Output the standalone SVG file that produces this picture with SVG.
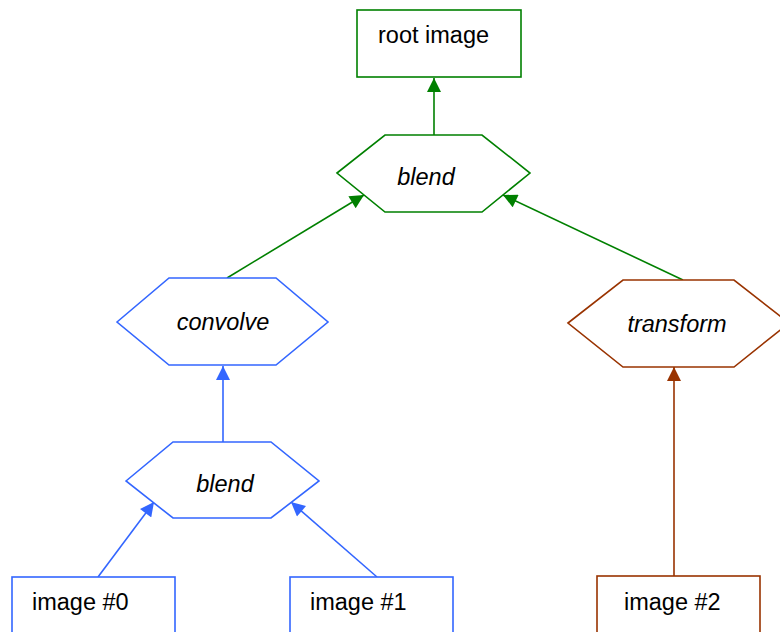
<svg xmlns="http://www.w3.org/2000/svg" width="780" height="632" viewBox="0 0 780 632">
<style>
  .g { stroke: #008000; }
  .b { stroke: #3366ff; }
  .r { stroke: #993300; }
  .shape { fill: #ffffff; stroke-width: 1.6; }
  .edge { fill: none; stroke-width: 1.6; }
  text { font-family: "Liberation Sans", Arial, sans-serif; font-size: 23.5px; fill: #000000; }
  .op { font-style: italic; text-anchor: middle; }
</style>
<defs>
  <marker id="ag" viewBox="0 0 10 10" refX="10" refY="5" markerWidth="15" markerHeight="14" markerUnits="userSpaceOnUse" orient="auto">
    <path d="M0,0 L10,5 L0,10 z" fill="#008000"/>
  </marker>
  <marker id="ab" viewBox="0 0 10 10" refX="10" refY="5" markerWidth="15" markerHeight="14" markerUnits="userSpaceOnUse" orient="auto">
    <path d="M0,0 L10,5 L0,10 z" fill="#3366ff"/>
  </marker>
  <marker id="ar" viewBox="0 0 10 10" refX="10" refY="5" markerWidth="15" markerHeight="14" markerUnits="userSpaceOnUse" orient="auto">
    <path d="M0,0 L10,5 L0,10 z" fill="#993300"/>
  </marker>
</defs>
<rect width="780" height="632" fill="#ffffff"/>
<g id="connectors">
  <line class="edge g" x1="434" y1="135" x2="434" y2="78" marker-end="url(#ag)"/>
  <line class="edge g" x1="227" y1="278" x2="364" y2="195" marker-end="url(#ag)"/>
  <line class="edge g" x1="683" y1="280" x2="503" y2="195" marker-end="url(#ag)"/>
  <line class="edge b" x1="223" y1="442" x2="223" y2="366" marker-end="url(#ab)"/>
  <line class="edge b" x1="98" y1="577" x2="154" y2="502" marker-end="url(#ab)"/>
  <line class="edge b" x1="377" y1="577" x2="291" y2="502" marker-end="url(#ab)"/>
  <line class="edge r" x1="674" y1="576" x2="674" y2="367" marker-end="url(#ar)"/>
</g>
<g id="root-image">
  <rect class="shape g" x="357" y="10" width="164" height="67"/>
  <text x="378" y="43">root image</text>
</g>
<g id="blend-top">
  <polygon class="shape g" points="337,173 385,135 482,135 530,173 482,212 385,212"/>
  <text class="op" x="426" y="185">blend</text>
</g>
<g id="convolve">
  <polygon class="shape b" points="117,322 169,278 276,278 328,322 276,365 169,365"/>
  <text class="op" x="223" y="330">convolve</text>
</g>
<g id="transform">
  <polygon class="shape r" points="568,323 623,280 734,280 789,323 734,367 623,367"/>
  <text class="op" x="677" y="332">transform</text>
</g>
<g id="blend-bottom">
  <polygon class="shape b" points="126,481 173,442 271,442 319,481 271,518 173,518"/>
  <text class="op" x="225" y="492">blend</text>
</g>
<g id="image-0">
  <rect class="shape b" x="12" y="577" width="163" height="70"/>
  <text x="32" y="610">image #0</text>
</g>
<g id="image-1">
  <rect class="shape b" x="290" y="577" width="163" height="70"/>
  <text x="310" y="610">image #1</text>
</g>
<g id="image-2">
  <rect class="shape r" x="597" y="576" width="163" height="70"/>
  <text x="624" y="610">image #2</text>
</g>
</svg>
